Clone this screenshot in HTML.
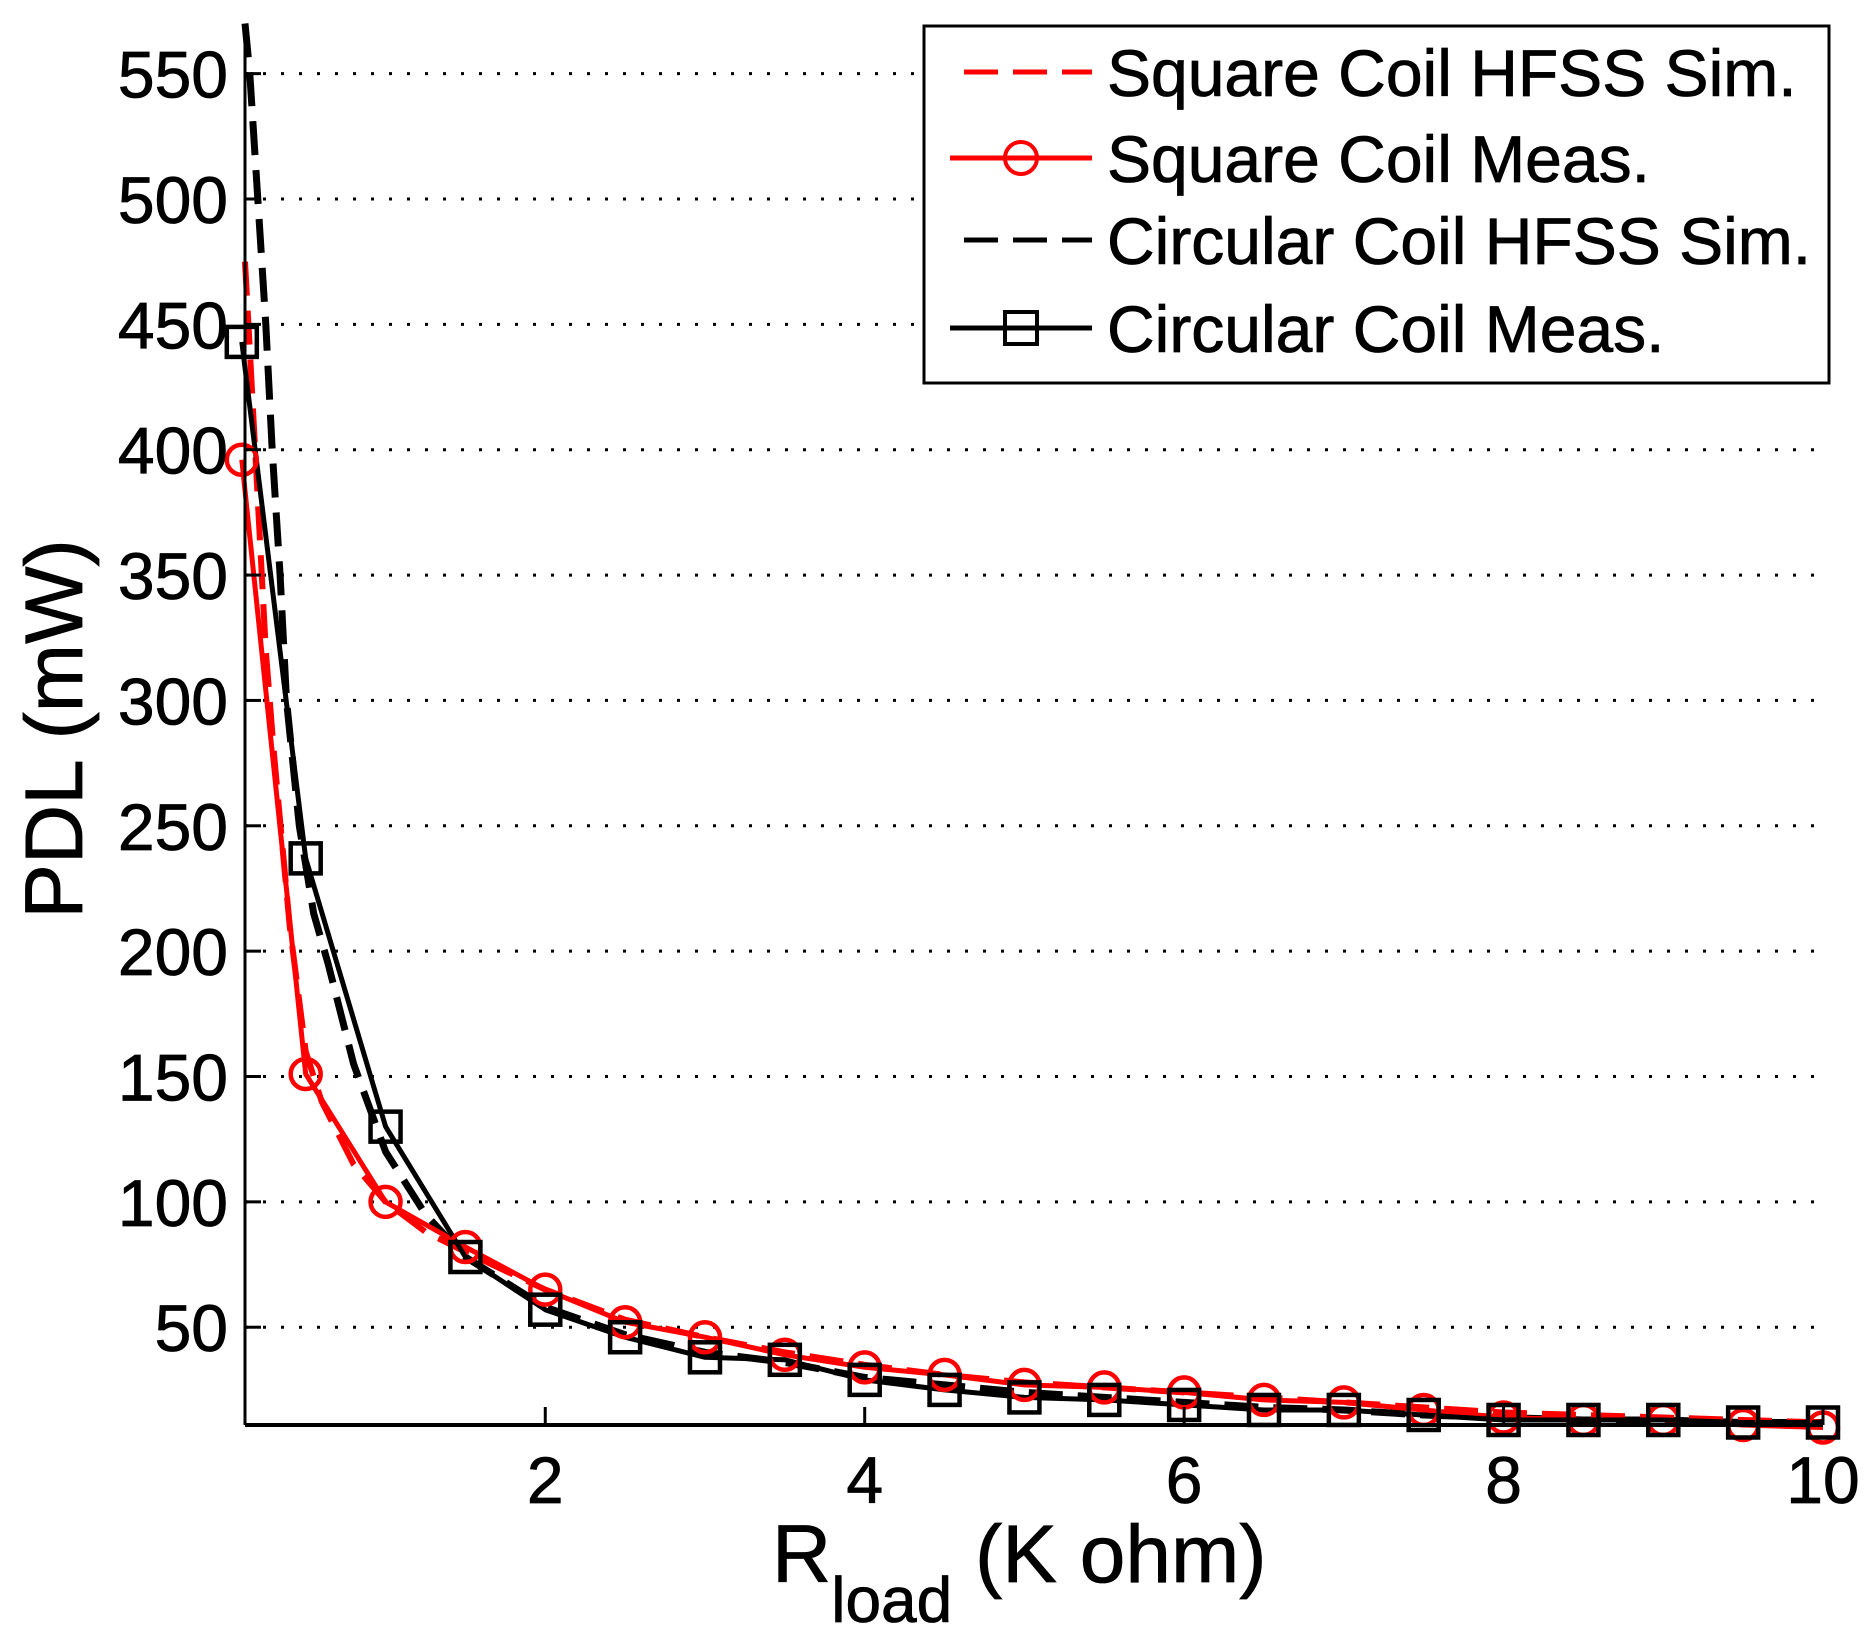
<!DOCTYPE html>
<html><head><meta charset="utf-8"><style>
html,body{margin:0;padding:0;background:#fff}
svg{display:block}
text{font-family:"Liberation Sans",Arial,sans-serif;stroke:#000;stroke-width:0.8}
</style></head><body>
<svg id="chart" width="1865" height="1641" viewBox="0 0 1865 1641" xmlns="http://www.w3.org/2000/svg">
<g id="grid"></g>
<g id="series"></g>
<g id="axes"></g>
<g id="legend">
  <rect x="924" y="26" width="905" height="357" fill="#fff" stroke="#000" stroke-width="3"/>
  <line x1="964" y1="72" x2="1092" y2="72" stroke="#f00" stroke-width="5" stroke-dasharray="34 15"/>
  <text x="1107" y="96" font-size="66">Square Coil HFSS Sim.</text>
  <line x1="950" y1="158" x2="1092" y2="158" stroke="#f00" stroke-width="5"/>
  <circle cx="1021" cy="158" r="16" fill="none" stroke="#f00" stroke-width="4"/>
  <text x="1107" y="182" font-size="66">Square Coil Meas.</text>
  <line x1="964" y1="240" x2="1092" y2="240" stroke="#000" stroke-width="5" stroke-dasharray="34 15"/>
  <text x="1107" y="264" font-size="66">Circular Coil HFSS Sim.</text>
  <line x1="950" y1="328" x2="1092" y2="328" stroke="#000" stroke-width="5"/>
  <rect x="1005" y="312" width="32" height="32" fill="none" stroke="#000" stroke-width="4"/>
  <text x="1107" y="352" font-size="66">Circular Coil Meas.</text>
</g>
</svg>
<script>
const xTicks=[2,4,6,8,10];
const yTicks=[50,100,150,200,250,300,350,400,450,500,550];
const measX=[0.1,0.5,1,1.5,2,2.5,3,3.5,4,4.5,5,5.5,6,6.5,7,7.5,8,8.5,9,9.5,10];
const squareMeas=[396,151,100,82,65,52,46,39,34,31,27,26,24,21,20,17,14,13,13,11,10];
const circularMeas=[443,237,130,78,57,46,38,37,29,25,22,21,19,17,17,15,13,13,13,12,12];
const squareSimX=[0.12,0.15,0.2,0.25,0.3,0.4,0.5,0.6,0.8,1,1.25,1.5,2,2.5,3,3.5,4,4.5,5,5.5,6,6.5,7,7.5,8,8.5,9,9.5,10];
const squareSim=[475,440,380,320,280,210,160,140,115,100,88,80,65,53,46,40,35,31,28,26,24,22,20,18,16,15,14,13,12];
const circSimX=[0.12,0.15,0.2,0.25,0.29,0.34,0.38,0.46,0.55,0.64,0.8,1,1.25,1.5,2,2.5,3,3.5,4,4.5,5,5.5,6,6.5,7,7.5,8,8.5,9,9.5,10];
const circSim=[570,550,500,450,400,350,300,250,215,195,155,120,95,78,58,47,40,36,30,27,24,22,20,18,17,15,14,13,13,12,12];

const NS='http://www.w3.org/2000/svg';
const L=245,R=1823,T=26,B=1425,XMIN=0.12,XMAX=10,YMIN=11,YMAX=569;
const sx=v=>L+(v-XMIN)/(XMAX-XMIN)*(R-L);
const sy=v=>B-(v-YMIN)/(YMAX-YMIN)*(B-T);
function mk(tag,parent,attrs){const e=document.createElementNS(NS,tag);for(const k in attrs)e.setAttribute(k,attrs[k]);parent.appendChild(e);return e;}
const grid=document.getElementById('grid'),ser=document.getElementById('series'),ax=document.getElementById('axes');

yTicks.forEach(v=>{
  const g=mk('line',grid,{x1:L,x2:1817,y1:sy(v),y2:sy(v),stroke:'#000','stroke-width':3,'stroke-dasharray':'3 15'});
  
  
  const t=mk('line',ax,{x1:L,x2:L+16,y1:sy(v),y2:sy(v),stroke:'#000','stroke-width':3});
  
  
  const lb=mk('text',ax,{x:228,y:sy(v)+24,'font-size':66,'text-anchor':'end'});
  lb.textContent=v;
  
  
});
xTicks.forEach(v=>{
  const t=mk('line',ax,{x1:sx(v),x2:sx(v),y1:B,y2:B-18,stroke:'#000','stroke-width':3});
  
  
  const lb=mk('text',ax,{x:sx(v),y:1503,'font-size':66,'text-anchor':'middle'});
  lb.textContent=v;
  
  
});
const xa=mk('line',ax,{x1:L,x2:R,y1:B,y2:B,stroke:'#000','stroke-width':4});


const ya=mk('line',ax,{x1:L,x2:L,y1:T,y2:B,stroke:'#000','stroke-width':3});


const yt=mk('text',ax,{x:0,y:0,'font-size':82,'text-anchor':'middle',transform:'translate(82,729) rotate(-90)'});
yt.textContent='PDL (mW)';


const xt=mk('text',ax,{x:772,y:1582,'font-size':82});
xt.innerHTML='R<tspan font-size="64" dy="40">load</tspan><tspan dy="-40"> (K ohm)</tspan>';



function path(xs,ys,color,w,dash,name){
  const d=xs.map((x,i)=>(i?'L':'M')+sx(x).toFixed(1)+' '+sy(ys[i]).toFixed(1)).join(' ');
  const p=mk('path',ser,{d:d,fill:'none',stroke:color,'stroke-width':w,'stroke-linejoin':'round'});
  if(dash)p.setAttribute('stroke-dasharray',dash);
  
  
}
path(circSimX,circSim,'#000',7,'34 15','circular-sim-line');
path(squareSimX,squareSim,'#f00',6,'34 15','square-sim-line');
path(measX,squareMeas,'#f00',5,null,'square-meas-line');
path(measX,circularMeas,'#000',5,null,'circular-meas-line');
measX.forEach((x,i)=>{
  const c=mk('circle',ser,{cx:sx(x),cy:sy(squareMeas[i]),r:15,fill:'none',stroke:'#f00','stroke-width':4.5});
  
  
});
measX.forEach((x,i)=>{
  const r=mk('rect',ser,{x:sx(x)-15,y:sy(circularMeas[i])-15,width:30,height:30,fill:'none',stroke:'#000','stroke-width':4.5});
  
  
});
</script>
</body></html>
